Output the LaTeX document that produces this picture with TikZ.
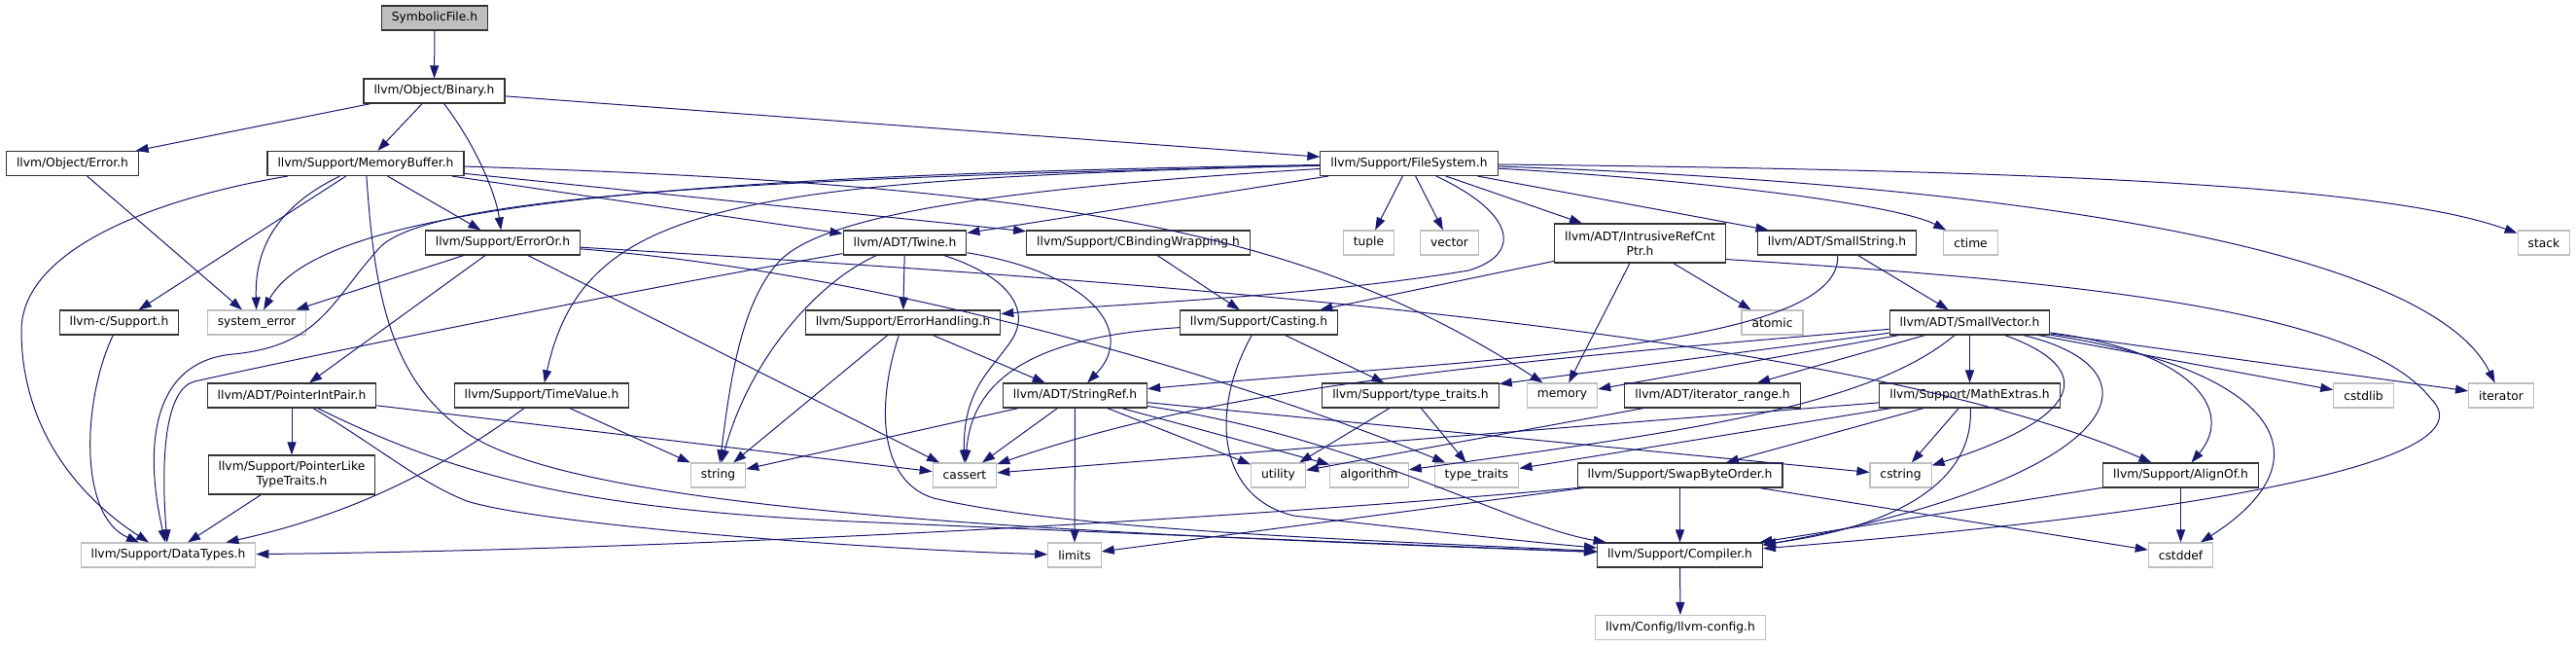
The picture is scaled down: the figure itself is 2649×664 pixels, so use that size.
\documentclass[tikz,border=0pt]{standalone}
\usepackage{fontspec}
\setmainfont{DejaVu Sans}
\usepackage{xcolor}
\usepackage{tikz}
\usetikzlibrary{arrows.meta}

\definecolor{edgeblue}{HTML}{191970}
\definecolor{sysgray}{HTML}{BFBFBF}

\begin{document}
\begin{tikzpicture}[x=1pt, y=-1pt,
    hdr/.style={draw=black!80, line width=1.1pt, rectangle, minimum height=25pt,
        inner xsep=10.5pt, inner ysep=2pt, font=\fontsize{12.3}{15}\selectfont},
    sys/.style={hdr, draw=sysgray},
    cur/.style={hdr, fill=sysgray},
    two/.style={align=center, minimum height=40pt},
    dep/.style={draw=edgeblue, line width=1pt, -{Triangle[length=13pt,width=9pt]}}]

    \useasboundingbox (0,0) rectangle (2649,664);

    % =================================================================
    % CAC NUT (HANG TU TREN XUONG)
    % =================================================================
    % hang 0 va 1
    \node[cur] (root) at (447,18.5) {SymbolicFile.h};
    \node[hdr] (binary) at (446.5,93.5) {llvm/Object/Binary.h};

    % hang 2
    \node[hdr] (objerr) at (74.5,168) {llvm/Object/Error.h};
    \node[hdr] (membuf) at (376,168) {llvm/Support/MemoryBuffer.h};
    \node[hdr] (filesys) at (1449,168) {llvm/Support/FileSystem.h};

    % hang 3
    \node[hdr] (erroror) at (517,249.5) {llvm/Support/ErrorOr.h};
    \node[hdr] (twine) at (930.5,249.5) {llvm/ADT/Twine.h};
    \node[hdr] (cbind) at (1170.5,249.5) {llvm/Support/CBindingWrapping.h};
    \node[sys] (tuple) at (1407.5,249.5) {tuple};
    \node[sys] (vector) at (1490.5,249.5) {vector};
    \node[hdr, two] (intrus) at (1686.5,250) {llvm/ADT/IntrusiveRefCnt\\Ptr.h};
    \node[hdr] (smallstr) at (1889,249.5) {llvm/ADT/SmallString.h};
    \node[sys] (ctime) at (2026.5,249.5) {ctime};
    \node[sys] (stack) at (2616,249.5) {stack};

    % hang 4
    \node[hdr] (csupport) at (122.5,331.5) {llvm-c/Support.h};
    \node[sys] (syserr) at (264,331.5) {system\_error};
    \node[hdr] (errhand) at (928.5,331.5) {llvm/Support/ErrorHandling.h};
    \node[hdr] (casting) at (1294.5,331.5) {llvm/Support/Casting.h};
    \node[sys] (atomic) at (1822.5,331.5) {atomic};
    \node[hdr] (smallvec) at (2025.5,331.5) {llvm/ADT/SmallVector.h};

    % hang 5
    \node[hdr] (ptrint) at (300,406.5) {llvm/ADT/PointerIntPair.h};
    \node[hdr] (timeval) at (557,406.5) {llvm/Support/TimeValue.h};
    \node[hdr] (strref) at (1105.5,406.5) {llvm/ADT/StringRef.h};
    \node[hdr] (typetr) at (1450.5,406.5) {llvm/Support/type\_traits.h};
    \node[sys] (memory) at (1606.5,406.5) {memory};
    \node[hdr] (itrange) at (1761,406.5) {llvm/ADT/iterator\_range.h};
    \node[hdr] (mathext) at (2025.5,406.5) {llvm/Support/MathExtras.h};
    \node[sys] (cstdlib) at (2430.5,406.5) {cstdlib};
    \node[sys] (iterator) at (2572,406.5) {iterator};

    % hang 6
    \node[hdr, two] (ptrlike) at (300,488) {llvm/Support/PointerLike\\TypeTraits.h};
    \node[sys] (string) at (738.5,488.5) {string};
    \node[sys] (cassert) at (992,488.5) {cassert};
    \node[sys] (utility) at (1314.5,488.5) {utility};
    \node[sys] (algorithm) at (1408,488.5) {algorithm};
    \node[sys] (stdtt) at (1518.5,488.5) {type\_traits};
    \node[hdr] (swapbyte) at (1727.5,488.5) {llvm/Support/SwapByteOrder.h};
    \node[sys] (cstring) at (1954.5,488.5) {cstring};
    \node[hdr] (alignof) at (2242.5,488.5) {llvm/Support/AlignOf.h};

    % hang 7 va 8
    \node[sys] (datatypes) at (173,570.5) {llvm/Support/DataTypes.h};
    \node[sys] (limits) at (1105,570.5) {limits};
    \node[hdr] (compiler) at (1727.5,570.5) {llvm/Support/Compiler.h};
    \node[sys] (cstddef) at (2242.5,570.5) {cstddef};
    \node[sys] (config) at (1728,645) {llvm/Config/llvm-config.h};

    % =================================================================
    % CAC MUI TEN PHU THUOC
    % =================================================================
    % SymbolicFile.h, Binary.h, Error.h
    \draw[dep] (root) -- (binary);
    \draw[dep] (binary) -- (objerr);
    \draw[dep] (binary) -- (membuf);
    \draw[dep] (binary) .. controls (490,150) and (510,200) .. (erroror);
    \draw[dep] (binary) -- (filesys);
    \draw[dep] (objerr) -- (syserr);

    % MemoryBuffer.h
    \draw[dep] (membuf) .. controls (180,200) and (22,250) .. (22,340)
        .. controls (22,440) and (80,510) .. (datatypes);
    \draw[dep] (membuf) -- (csupport);
    \draw[dep] (membuf) .. controls (280,215) and (262,260) .. (syserr);
    \draw[dep] (membuf) -- (erroror);
    \draw[dep] (membuf) -- (twine);
    \draw[dep] (membuf) -- (cbind);
    \draw[dep] (membuf) .. controls (385,300) and (400,390) .. (480,445)
        .. controls (600,527) and (1100,548) .. (compiler);
    \draw[dep] (membuf) .. controls (1100,190) and (1350,240) .. (memory);

    % FileSystem.h
    \draw[dep] (filesys) -- (tuple);
    \draw[dep] (filesys) -- (vector);
    \draw[dep] (filesys) -- (intrus);
    \draw[dep] (filesys) -- (smallstr);
    \draw[dep] (filesys) .. controls (1750,185) and (1950,210) .. (ctime);
    \draw[dep] (filesys) .. controls (2100,190) and (2500,260) .. (iterator);
    \draw[dep] (filesys) .. controls (2100,175) and (2450,190) .. (stack);
    \draw[dep] (filesys) -- (twine);
    \draw[dep] (filesys) .. controls (700,180) and (330,210) .. (syserr);
    \draw[dep] (filesys) .. controls (800,183) and (440,200) .. (390,255)
        .. controls (340,310) and (330,355) .. (240,364)
        .. controls (150,372) and (150,470) .. (datatypes);
    \draw[dep] (filesys) .. controls (750,185) and (600,210) .. (timeval);
    \draw[dep] (filesys) .. controls (1000,195) and (840,225) .. (800,270)
        .. controls (760,315) and (750,400) .. (string);
    \draw[dep] (filesys) .. controls (1560,220) and (1565,262) .. (1510,278)
        .. controls (1350,305) and (1150,312) .. (errhand);

    % llvm-c/Support.h, ErrorOr.h
    \draw[dep] (csupport) .. controls (85,410) and (80,530) .. (datatypes);
    \draw[dep] (erroror) -- (syserr);
    \draw[dep] (erroror) -- (ptrint);
    \draw[dep] (erroror) -- (cassert);
    \draw[dep] (erroror) .. controls (900,280) and (1250,380) .. (stdtt);
    \draw[dep] (erroror) .. controls (1200,290) and (1900,340) .. (alignof);

    % Twine.h, CBindingWrapping.h
    \draw[dep] (twine) -- (errhand);
    \draw[dep] (twine) .. controls (840,290) and (770,370) .. (string);
    \draw[dep] (twine) .. controls (1040,285) and (1060,320) .. (1040,350)
        .. controls (1020,380) and (990,400) .. (cassert);
    \draw[dep] (twine) .. controls (1120,280) and (1170,340) .. (strref);
    \draw[dep] (twine) .. controls (600,307) and (300,370) .. (200,392)
        .. controls (170,400) and (165,470) .. (datatypes);
    \draw[dep] (cbind) -- (casting);

    % IntrusiveRefCntPtr.h, SmallString.h
    \draw[dep] (intrus) -- (casting);
    \draw[dep] (intrus) -- (atomic);
    \draw[dep] (intrus) -- (memory);
    \draw[dep] ([yshift=4pt]intrus.south east) .. controls (2150,290) and (2430,320) .. (2500,410)
        .. controls (2560,470) and (2300,525) .. (compiler);
    \draw[dep] (smallstr) -- (smallvec);
    \draw[dep] (smallstr) .. controls (1895,360) and (1500,370) .. (strref);

    % ErrorHandling.h, Casting.h
    \draw[dep] (errhand) -- (string);
    \draw[dep] (errhand) -- (strref);
    \draw[dep] (errhand) .. controls (900,420) and (905,495) .. (960,512)
        .. controls (1100,545) and (1400,555) .. (compiler);
    \draw[dep] (casting) -- (typetr);
    \draw[dep] (casting) .. controls (1080,345) and (1000,380) .. (cassert);
    \draw[dep] (casting) .. controls (1245,420) and (1250,510) .. (1330,530)
        .. controls (1420,540) and (1550,555) .. (compiler);

    % SmallVector.h
    \draw[dep] (smallvec) -- (mathext);
    \draw[dep] (smallvec) -- (itrange);
    \draw[dep] (smallvec) .. controls (2160,380) and (2140,430) .. (cstring);
    \draw[dep] (smallvec) .. controls (2230,380) and (2190,490) .. ([yshift=-3pt]compiler.north east);
    \draw[dep] (smallvec) .. controls (1920,420) and (1720,445) .. (algorithm);
    \draw[dep] (smallvec) -- (typetr);
    \draw[dep] (smallvec) -- (memory);
    \draw[dep] (smallvec) .. controls (1500,375) and (1250,400) .. (cassert);
    \draw[dep] (smallvec) -- (iterator);
    \draw[dep] (smallvec) -- (cstdlib);
    \draw[dep] (smallvec) .. controls (2250,360) and (2300,420) .. (alignof);
    \draw[dep] (smallvec) .. controls (2340,380) and (2400,470) .. (cstddef);

    % MathExtras.h, SwapByteOrder.h, AlignOf.h
    \draw[dep] (mathext) -- (cstring);
    \draw[dep] (mathext) -- (swapbyte);
    \draw[dep] (mathext) .. controls (2030,490) and (1960,540) .. ([yshift=-2pt]compiler.north east);
    \draw[dep] (mathext) -- (cassert);
    \draw[dep] (mathext) -- (stdtt);
    \draw[dep] (swapbyte) -- (compiler);
    \draw[dep] (swapbyte) -- (limits);
    \draw[dep] (swapbyte.south west) .. controls (1250,535) and (700,565) .. (datatypes);
    \draw[dep] (swapbyte) -- (cstddef);
    \draw[dep] (alignof) -- (cstddef);
    \draw[dep] (alignof) -- (compiler);

    % type_traits.h, iterator_range.h, StringRef.h
    \draw[dep] (typetr) -- (utility);
    \draw[dep] (typetr) -- (stdtt);
    \draw[dep] (itrange) -- (utility);
    \draw[dep] (strref) -- (cassert);
    \draw[dep] (strref) -- (limits);
    \draw[dep] (strref) -- (utility);
    \draw[dep] (strref) -- (string);
    \draw[dep] (strref) -- (algorithm);
    \draw[dep] (strref) -- (cstring);
    \draw[dep] (strref) .. controls (1400,450) and (1550,540) .. (compiler);

    % PointerIntPair.h, PointerLikeTypeTraits.h, TimeValue.h
    \draw[dep] (ptrint) -- (ptrlike);
    \draw[dep] (ptrint) -- (cassert);
    \draw[dep] (ptrint) .. controls (390,460) and (430,495) .. (480,515)
        .. controls (560,540) and (900,565) .. (limits);
    \draw[dep] (ptrint) .. controls (470,490) and (600,525) .. (900,537)
        .. controls (1200,550) and (1450,560) .. (compiler);
    \draw[dep] (ptrlike) -- (datatypes);
    \draw[dep] (timeval) -- (string);
    \draw[dep] (timeval) .. controls (470,470) and (380,525) .. (datatypes);

    % Compiler.h
    \draw[dep] (compiler) -- (config);

\end{tikzpicture}
\end{document}
